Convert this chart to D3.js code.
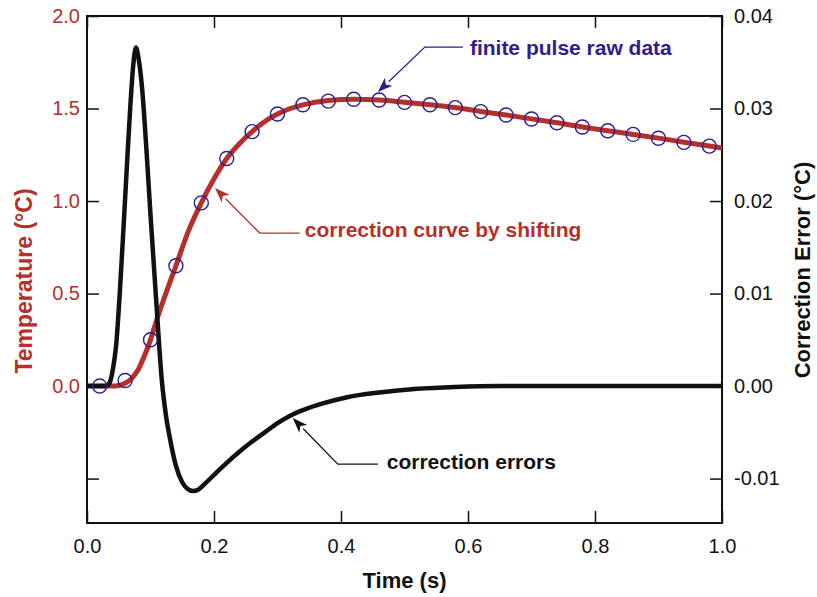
<!DOCTYPE html>
<html lang="en">
<head>
    <meta charset="UTF-8">
    <title>Finite pulse correction</title>
    <script src="https://d3js.org/d3.v7.min.js"></script>
    <style>
        body { margin: 0; background: #fff; }
        svg { font-family: "Liberation Sans", Arial, sans-serif; }
        .tick line { stroke: #111; stroke-width: 1.5; }
        .tick text { font-size: 20px; }
    </style>
</head>
<body>
    <svg id="chart" width="817" height="597"></svg>
    <script>
        // correction curve (red, left axis)
        const fitTime  = [0, 0.02, 0.04, 0.05, 0.06, 0.07, 0.08, 0.09, 0.10, 0.11, 0.12, 0.14, 0.16, 0.18, 0.20, 0.22, 0.24, 0.26, 0.28, 0.30, 0.32, 0.34, 0.38, 0.42, 0.46, 0.50, 0.54, 0.58, 0.62, 0.66, 0.70, 0.74, 0.78, 0.82, 0.86, 0.90, 0.94, 0.98, 1.00];
        const fitTemp  = [0, 0, 0, 0.003, 0.015, 0.04, 0.085, 0.16, 0.25, 0.36, 0.46, 0.65, 0.84, 0.99, 1.12, 1.23, 1.31, 1.375, 1.43, 1.47, 1.50, 1.52, 1.543, 1.55, 1.546, 1.534, 1.52, 1.505, 1.484, 1.465, 1.444, 1.423, 1.40, 1.38, 1.36, 1.34, 1.318, 1.297, 1.287];

        // finite pulse raw data (open circles, left axis)
        const rawTime = [0.02, 0.06, 0.10, 0.14, 0.18, 0.22, 0.26, 0.30, 0.34, 0.38, 0.42, 0.46, 0.50, 0.54, 0.58, 0.62, 0.66, 0.70, 0.74, 0.78, 0.82, 0.86, 0.90, 0.94, 0.98];
        const rawTemp = [0.0, 0.03, 0.25, 0.65, 0.99, 1.23, 1.375, 1.47, 1.52, 1.54, 1.55, 1.546, 1.533, 1.52, 1.505, 1.483, 1.465, 1.443, 1.423, 1.40, 1.38, 1.36, 1.339, 1.317, 1.297];

        // correction errors (black, right axis)
        const errTime  = [0, 0.030, 0.036, 0.041, 0.046, 0.052, 0.057, 0.063, 0.068, 0.073, 0.077, 0.081, 0.087, 0.093, 0.100, 0.109, 0.118, 0.124, 0.131, 0.140, 0.150, 0.158, 0.167, 0.175, 0.185, 0.20, 0.22, 0.24, 0.26, 0.28, 0.30, 0.32, 0.34, 0.37, 0.41, 0.46, 0.52, 0.58, 0.65, 1.0];
        const errValue = [0, 0, 0.0004, 0.0019, 0.0045, 0.0105, 0.0165, 0.0240, 0.0300, 0.0348, 0.0366, 0.0355, 0.0320, 0.0262, 0.0185, 0.0092, 0.0005, -0.0030, -0.0058, -0.0086, -0.0104, -0.0111, -0.01135, -0.0112, -0.0106, -0.0096, -0.0083, -0.0071, -0.0060, -0.0050, -0.0040, -0.0032, -0.0026, -0.0019, -0.0012, -0.0007, -0.0003, -0.0001, 0, 0];

        const xTicks = [0, 0.2, 0.4, 0.6, 0.8, 1.0];
        const leftTicks = [-0.5, 0, 0.5, 1.0, 1.5, 2.0];
        const rightTicks = [-0.01, 0, 0.01, 0.02, 0.03, 0.04];

        const red = "#b5302a";
        const navy = "#2e1d8a";

        const svg = d3.select("#chart");
        const plotL = 87, plotR = 722, plotT = 16, plotB = 523;

        const x = d3.scaleLinear([0, 1], [plotL, plotR]);
        const yL = d3.scaleLinear([-0.74, 2.0], [plotB, plotT]);
        const yR = d3.scaleLinear([-0.0148, 0.04], [plotB, plotT]);

        // axes, ticks pointing inward
        svg.append("g").attr("transform", `translate(0,${plotB})`)
            .call(d3.axisBottom(x).tickValues(xTicks).tickSize(-12).tickPadding(16).tickFormat(d3.format(".1f")))
            .call(g => g.select(".domain").remove())
            .selectAll("text").attr("fill", "#111");
        svg.append("g").attr("transform", `translate(0,${plotT})`)
            .call(d3.axisTop(x).tickValues(xTicks).tickSize(-12).tickFormat(""))
            .call(g => g.select(".domain").remove());
        svg.append("g").attr("transform", `translate(${plotL},0)`)
            .call(d3.axisLeft(yL).tickValues(leftTicks).tickSize(-12).tickPadding(7)
                .tickFormat(d => d < 0 ? "" : d.toFixed(1)))
            .call(g => g.select(".domain").remove())
            .selectAll("text").attr("fill", red);
        svg.append("g").attr("transform", `translate(${plotR},0)`)
            .call(d3.axisRight(yR).tickValues(rightTicks).tickSize(-12).tickPadding(12)
                .tickFormat(d => d.toFixed(2)))
            .call(g => g.select(".domain").remove())
            .selectAll("text").attr("fill", "#111");

        svg.append("rect")
            .attr("x", plotL).attr("y", plotT)
            .attr("width", plotR - plotL).attr("height", plotB - plotT)
            .attr("fill", "none").attr("stroke", "#111").attr("stroke-width", 2);

        // curves
        const fitLine = d3.line().x(d => x(d[0])).y(d => yL(d[1])).curve(d3.curveMonotoneX);
        svg.append("path")
            .datum(d3.zip(fitTime, fitTemp))
            .attr("d", fitLine)
            .attr("fill", "none").attr("stroke", red).attr("stroke-width", 5);

        const errLine = d3.line().x(d => x(d[0])).y(d => yR(d[1])).curve(d3.curveMonotoneX);
        svg.append("path")
            .datum(d3.zip(errTime, errValue))
            .attr("d", errLine)
            .attr("fill", "none").attr("stroke", "#111").attr("stroke-width", 4.5)
            .attr("stroke-linejoin", "round");

        svg.selectAll(".raw")
            .data(d3.zip(rawTime, rawTemp))
            .enter().append("circle")
            .attr("class", "raw")
            .attr("cx", d => x(d[0])).attr("cy", d => yL(d[1]))
            .attr("r", 7)
            .attr("fill", "none").attr("stroke", navy).attr("stroke-width", 1.4);

        // annotations: text start, line end, elbow, tip in data units (left axis)
        function annotate(label, color, textPos, lineEnd, elbow, tip) {
            const p = [lineEnd, elbow, tip].map(d => [x(d[0]), yL(d[1])]);
            const ang = Math.atan2(p[2][1] - p[1][1], p[2][0] - p[1][0]);
            const len = 15, half = 5.5;
            const base = [p[2][0] - len * Math.cos(ang), p[2][1] - len * Math.sin(ang)];
            svg.append("path")
                .attr("d", d3.line()([p[0], p[1], base]))
                .attr("fill", "none").attr("stroke", color).attr("stroke-width", 1.3);
            const head = [
                p[2],
                [base[0] + half * Math.sin(ang), base[1] - half * Math.cos(ang)],
                [p[2][0] - (len - 4) * Math.cos(ang), p[2][1] - (len - 4) * Math.sin(ang)],
                [base[0] - half * Math.sin(ang), base[1] + half * Math.cos(ang)]
            ];
            svg.append("polygon")
                .attr("points", head.map(d => d.join(",")).join(" "))
                .attr("fill", color);
            svg.append("text")
                .attr("x", x(textPos[0])).attr("y", yL(textPos[1]))
                .attr("fill", color)
                .attr("font-size", 21).attr("font-weight", "bold")
                .text(label);
        }

        annotate("finite pulse raw data", navy, [0.603, 1.789], [0.592, 1.832], [0.532, 1.832], [0.458, 1.589]);
        annotate("correction curve by shifting", red, [0.343, 0.805], [0.335, 0.827], [0.272, 0.827], [0.2016, 1.070]);
        annotate("correction errors", "#111", [0.472, -0.449], [0.458, -0.4216], [0.395, -0.4216], [0.324, -0.173]);

        // axis titles
        svg.append("text")
            .attr("x", (plotL + plotR) / 2).attr("y", 588)
            .attr("text-anchor", "middle")
            .attr("font-size", 22).attr("font-weight", "bold").attr("fill", "#111")
            .text("Time (s)");
        svg.append("text")
            .attr("transform", "translate(32,281) rotate(-90)")
            .attr("text-anchor", "middle")
            .attr("font-size", 23).attr("font-weight", "bold").attr("fill", red)
            .text("Temperature (°C)");
        svg.append("text")
            .attr("transform", "translate(810,270) rotate(-90)")
            .attr("text-anchor", "middle")
            .attr("font-size", 22).attr("font-weight", "bold").attr("fill", "#111")
            .text("Correction Error (°C)");
    </script>
</body>
</html>
